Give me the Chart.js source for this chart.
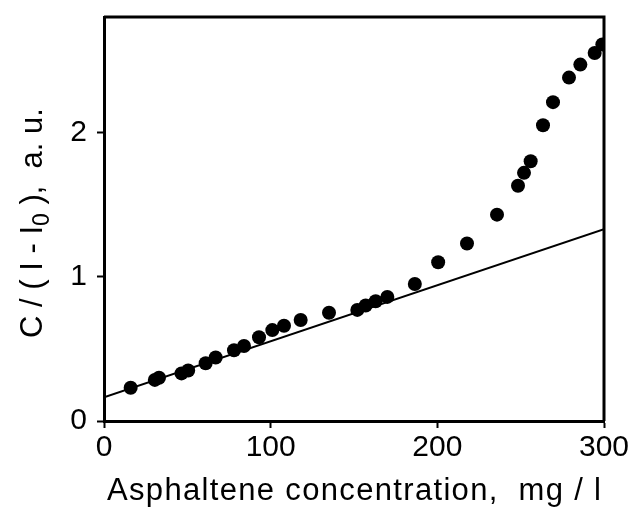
<!DOCTYPE html>
<html>
<head>
<meta charset="utf-8">
<script src="https://cdn.jsdelivr.net/npm/chart.js@4/dist/chart.umd.min.js"></script>
<style>
  html, body { margin: 0; padding: 0; background: #fff; }
  canvas { display: block; }
</style>
</head>
<body>
<canvas id="chart" width="633" height="508"></canvas>
<script>
// measured points (asphaltene concentration, mg/l  vs  C/(I-I0), a.u.)
const concentration = [16, 30.5, 33, 46.5, 50.5, 61, 67, 78, 84, 93, 101, 108, 118, 135,
  152, 157, 163, 170, 186.5, 200.5, 217.8, 235.8, 248.4, 252, 256, 263.4, 269.4, 279, 285.8, 294.4, 299];
const ratio = [0.23, 0.285, 0.30, 0.33, 0.35, 0.40, 0.44, 0.49, 0.52, 0.58, 0.63, 0.66, 0.70, 0.75,
  0.77, 0.80, 0.83, 0.86, 0.95, 1.10, 1.23, 1.43, 1.63, 1.72, 1.80, 2.05, 2.21, 2.38, 2.47, 2.55, 2.61];

// linear fit drawn over the low-concentration part
const fitX = [0, 300];
const fitY = [0.165, 1.33];

// axis ticks
const xTicks = [0, 100, 200, 300];
const yTicks = [0, 1, 2];

const points = concentration.map((c, i) => ({ x: c, y: ratio[i] }));
const fitLine = fitX.map((c, i) => ({ x: c, y: fitY[i] }));

const FONT = '"Liberation Sans", Arial, Helvetica, sans-serif';

// frame on top/right plus axis titles (y title has a subscript)
const framePlugin = {
  id: 'frame',
  afterDraw(chart) {
    const { ctx, chartArea: a } = chart;
    ctx.save();
    ctx.strokeStyle = '#000';
    ctx.lineWidth = 3;
    ctx.beginPath();
    ctx.moveTo(a.left, a.top);
    ctx.lineTo(a.right, a.top);
    ctx.lineTo(a.right, a.bottom);
    ctx.stroke();

    ctx.fillStyle = '#000';
    // x title
    const xt = 'Asphaltene concentration,  mg / l';
    ctx.font = '31px ' + FONT;
    ctx.textBaseline = 'alphabetic';
    ctx.textAlign = 'left';
    const w = ctx.measureText(xt).width;
    const spacing = (494 - w) / (xt.length - 1);
    ctx.letterSpacing = spacing + 'px';
    ctx.fillText(xt, 107, 500);
    ctx.letterSpacing = '0px';

    // y title, rotated, with subscript 0
    const parts = [
      { t: 'C / ( I - I', size: 31, dy: 0 },
      { t: '0', size: 23, dy: 7 },
      { t: ' ),  a. u.', size: 31, dy: 0 }
    ];
    let total = 0;
    parts.forEach(p => { ctx.font = p.size + 'px ' + FONT; p.w = ctx.measureText(p.t).width; total += p.w; });
    ctx.translate(42, 223);
    ctx.rotate(-Math.PI / 2);
    let x = -total / 2;
    parts.forEach(p => {
      ctx.font = p.size + 'px ' + FONT;
      ctx.fillText(p.t, x, p.dy);
      x += p.w;
    });
    ctx.restore();
  }
};

// drop the label overhang padding so the plot box sits where the layout puts it
const noPad = s => { s.paddingTop = 0; s.paddingBottom = 0; s.paddingLeft = 0; s.paddingRight = 0; };

new Chart(document.getElementById('chart'), {
  type: 'scatter',
  data: {
    datasets: [
      {
        label: 'data',
        data: points,
        pointRadius: 7,
        pointBorderWidth: 0,
        backgroundColor: '#000',
        borderColor: '#000',
        clip: 0
      },
      {
        label: 'fit',
        data: fitLine,
        showLine: true,
        pointRadius: 0,
        borderColor: '#000',
        borderWidth: 2,
        clip: 0
      }
    ]
  },
  options: {
    responsive: false,
    animation: false,
    layout: { padding: { left: 0, top: 17, right: 29, bottom: 0 } },
    plugins: {
      legend: { display: false },
      tooltip: { enabled: false }
    },
    scales: {
      x: {
        type: 'linear',
        min: 0,
        max: 300,
        afterBuildTicks: s => { s.ticks = xTicks.map(v => ({ value: v })); },
        afterFit: s => { s.height = 87; noPad(s); },
        ticks: { color: '#000', font: { size: 30, family: FONT }, padding: 2, maxRotation: 0 },
        grid: { drawOnChartArea: false, tickLength: 7, tickWidth: 2, tickColor: '#000' },
        border: { color: '#000', width: 3 }
      },
      y: {
        type: 'linear',
        min: 0,
        max: 2.8,
        afterBuildTicks: s => { s.ticks = yTicks.map(v => ({ value: v })); },
        afterFit: s => { s.width = 104; noPad(s); },
        ticks: { color: '#000', font: { size: 30, family: FONT }, padding: 10 },
        grid: { drawOnChartArea: false, tickLength: 7, tickWidth: 2, tickColor: '#000' },
        border: { color: '#000', width: 3 }
      }
    }
  },
  plugins: [framePlugin]
});
</script>
</body>
</html>
